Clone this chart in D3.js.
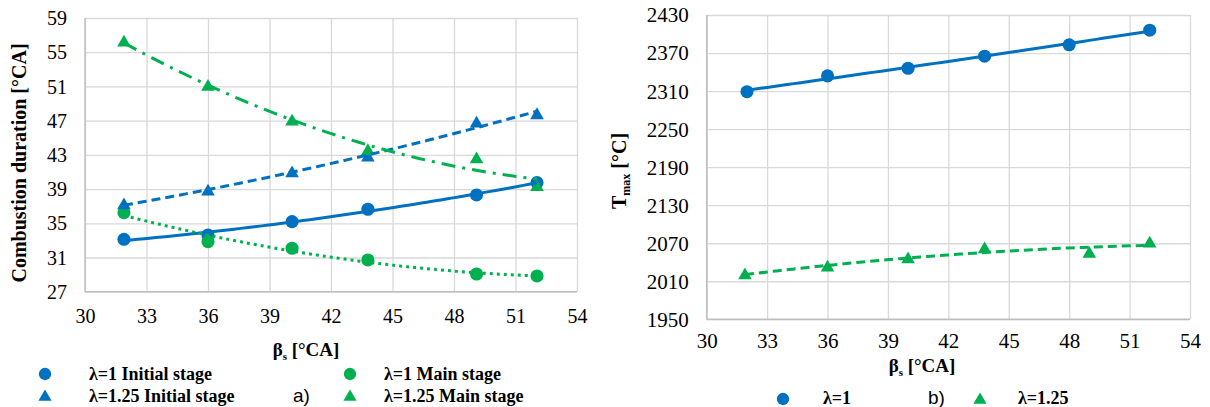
<!DOCTYPE html>
<html><head><meta charset="utf-8">
<script src="https://cdn.jsdelivr.net/npm/d3@7"></script>
<style>body{margin:0;background:#fff}svg{display:block}</style>
</head><body><svg id="c" width="1210" height="407"></svg>
<script>
// ---------- data ----------
const xTicks = [30, 33, 36, 39, 42, 45, 48, 51, 54];
const durTicks = [27, 31, 35, 39, 43, 47, 51, 55, 59];
const tmaxTicks = [1950, 2010, 2070, 2130, 2190, 2250, 2310, 2370, 2430];

const betaA = [31.9, 36, 40.1, 43.8, 49.1, 52.05];
const initialL1 = [33.13, 33.63, 35.19, 36.64, 38.31, 39.75];
const mainL1 = [36.24, 32.85, 32.08, 30.71, 29.07, 28.84];
const initialL125 = [37.22, 38.81, 40.96, 42.79, 46.77, 47.75];
const mainL125 = [56.24, 51.06, 47.0, 43.57, 42.6, 39.36];

const betaB1 = [32, 36, 40, 43.8, 48, 52];
const tmaxL1 = [2309, 2334, 2346, 2365, 2383, 2406];
const betaB125 = [31.9, 36, 40, 43.8, 49, 52];
const tmaxL125 = [2021, 2033, 2046, 2062, 2055, 2071];

// ---------- style ----------
const BLUE = '#0070C0', GREEN = '#00B050';
const SERIF = "'Liberation Serif'";
const SANS = "'Liberation Sans'";
const svg = d3.select('#c');

// least-squares quadratic trendline (like an Excel polynomial trendline)
function fitQuad(xs, ys) {
  const m = d3.mean(xs);
  const A = [[0,0,0],[0,0,0],[0,0,0]], b = [0,0,0];
  xs.forEach((x0, i) => {
    const x = x0 - m, p = [1, x, x * x];
    for (let r = 0; r < 3; r++) { b[r] += p[r] * ys[i]; for (let c = 0; c < 3; c++) A[r][c] += p[r] * p[c]; }
  });
  for (let i = 0; i < 3; i++) {
    for (let k = i + 1; k < 3; k++) {
      const f = A[k][i] / A[i][i];
      for (let j = i; j < 3; j++) A[k][j] -= f * A[i][j];
      b[k] -= f * b[i];
    }
  }
  const c = [0,0,0];
  for (let i = 2; i >= 0; i--) {
    let s = b[i];
    for (let j = i + 1; j < 3; j++) s -= A[i][j] * c[j];
    c[i] = s / A[i][i];
  }
  return x => { const t = x - m; return c[0] + c[1] * t + c[2] * t * t; };
}

function panel(cfg) {
  const x = d3.scaleLinear().domain([30, 54]).range([cfg.x0, cfg.x1]);
  const y = d3.scaleLinear().domain(cfg.yDomain).range([cfg.y1, cfg.y0]);
  const g = svg.append('g');

  // grid + tick labels via d3 axes
  const ya = g.append('g').attr('transform', `translate(${cfg.x0},0)`)
    .call(d3.axisLeft(y).tickValues(cfg.yTicks).tickSize(-(cfg.x1 - cfg.x0)).tickPadding(18).tickFormat(d3.format('d')));
  const xa = g.append('g').attr('transform', `translate(0,${cfg.y1})`)
    .call(d3.axisBottom(x).tickValues(xTicks).tickSize(-(cfg.y1 - cfg.y0)).tickFormat(d3.format('d')));
  [ya, xa].forEach(a => {
    a.attr('font-family', null).attr('font-size', null);
    a.select('.domain').remove();
    a.selectAll('line').attr('stroke', '#d9d9d9').attr('stroke-width', 1.3);
    a.selectAll('text').attr('fill', '#000').style('font-family', SERIF).style('font-size', cfg.tickSize + 'px');
  });
  ya.selectAll('text').attr('dy', '0.33em');
  xa.selectAll('text').attr('y', cfg.xTickOffset).attr('dy', null);
  // axis lines
  g.append('line').attr('x1', cfg.x0).attr('x2', cfg.x0).attr('y1', cfg.y0).attr('y2', cfg.y1).attr('stroke', '#bfbfbf').attr('stroke-width', 1.5);
  g.append('line').attr('x1', cfg.x0).attr('x2', cfg.x1).attr('y1', cfg.y1).attr('y2', cfg.y1).attr('stroke', '#bfbfbf').attr('stroke-width', 1.5);

  // series markers
  const line = d3.line().x(d => x(d[0])).y(d => y(d[1]));
  cfg.series.forEach(s => {
    const pts = s.xs.map((v, i) => [v, s.ys[i]]);
    const sym = d3.symbol().type(s.shape === 'circle' ? d3.symbolCircle : d3.symbolTriangle)
      .size(s.shape === 'circle' ? 135 : 80);
    g.append('g').selectAll('path').data(pts).join('path')
      .attr('d', sym).attr('fill', s.color)
      .attr('transform', d => `translate(${x(d[0])},${y(d[1]) + (s.shape === 'circle' ? 0 : 1)})`);
  });
  // trendlines
  cfg.series.forEach(s => {
    const f = fitQuad(s.xs, s.ys);
    const lo = d3.min(s.xs), hi = d3.max(s.xs);
    const trend = d3.range(0, 61).map(i => { const v = lo + (hi - lo) * i / 60; return [v, f(v)]; });
    g.append('path').datum(trend).attr('d', line).attr('fill', 'none')
      .attr('stroke', s.color).attr('stroke-width', 3)
      .attr('stroke-dasharray', s.dash).attr('stroke-linecap', 'butt');
  });

  // axis titles
  const xt = g.append('text').attr('x', cfg.xTitle[0]).attr('y', cfg.xTitle[1]).attr('text-anchor', 'middle')
    .style('font-family', SERIF).style('font-weight', 'bold').style('font-size', '19px');
  xt.append('tspan').text('β');
  xt.append('tspan').text('s').attr('dy', 4).style('font-size', '11px');
  xt.append('tspan').text(' [°CA]').attr('dy', -4);

  const yt = g.append('text').attr('transform', `translate(${cfg.yTitle[0]},${cfg.yTitle[1]}) rotate(-90)`)
    .attr('text-anchor', 'middle').style('font-family', SERIF).style('font-weight', 'bold').style('font-size', '20px');
  cfg.yTitleParts.forEach(p => {
    const t = yt.append('tspan').text(p.t);
    if (p.sub) t.attr('dy', 4).style('font-size', '12px');
    if (p.back) t.attr('dy', -4);
  });

  // legend
  cfg.legend.forEach(l => {
    const sym = d3.symbol().type(l.shape === 'circle' ? d3.symbolCircle : d3.symbolTriangle).size(l.shape === 'circle' ? 120 : 75);
    g.append('path').attr('d', sym).attr('fill', l.color).attr('transform', `translate(${l.mx},${l.my})`);
    g.append('text').attr('x', l.tx).attr('y', l.ty).text(l.label)
      .style('font-family', SERIF).style('font-weight', 'bold').style('font-size', '18px');
  });
  g.append('text').attr('x', cfg.tag[0]).attr('y', cfg.tag[1]).text(cfg.tag[2])
    .style('font-family', SANS).style('font-size', '19px');
}

panel({
  x0: 85, x1: 577, y0: 18, y1: 291.7,
  yDomain: [27, 59], yTicks: durTicks, tickSize: 20, xTickOffset: 31,
  xTitle: [306, 356], yTitle: [26, 163],
  yTitleParts: [{t: 'Combustion duration [°CA]'}],
  series: [
    {xs: betaA, ys: initialL1, color: BLUE, shape: 'circle', dash: null},
    {xs: betaA, ys: mainL1, color: GREEN, shape: 'circle', dash: '3,4'},
    {xs: betaA, ys: initialL125, color: BLUE, shape: 'triangle', dash: '9,5'},
    {xs: betaA, ys: mainL125, color: GREEN, shape: 'triangle', dash: '14,7,3,7'}
  ],
  legend: [
    {shape: 'circle', color: BLUE, mx: 45, my: 374, tx: 89, ty: 380, label: 'λ=1 Initial stage'},
    {shape: 'triangle', color: BLUE, mx: 45, my: 397, tx: 89, ty: 402, label: 'λ=1.25 Initial stage'},
    {shape: 'circle', color: GREEN, mx: 350, my: 374, tx: 384, ty: 380, label: 'λ=1 Main stage'},
    {shape: 'triangle', color: GREEN, mx: 350, my: 397, tx: 384, ty: 402, label: 'λ=1.25 Main stage'}
  ],
  tag: [293, 402, 'a)']
});

panel({
  x0: 706.7, x1: 1190, y0: 15, y1: 319.3,
  yDomain: [1950, 2430], yTicks: tmaxTicks, tickSize: 21, xTickOffset: 29,
  xTitle: [922, 372], yTitle: [626, 171],
  yTitleParts: [{t: 'T'}, {t: 'max', sub: true}, {t: '  [°C]', back: true}],
  series: [
    {xs: betaB1, ys: tmaxL1, color: BLUE, shape: 'circle', dash: null},
    {xs: betaB125, ys: tmaxL125, color: GREEN, shape: 'triangle', dash: '9,5'}
  ],
  legend: [
    {shape: 'circle', color: BLUE, mx: 783, my: 399, tx: 823, ty: 404, label: 'λ=1'},
    {shape: 'triangle', color: GREEN, mx: 980, my: 400, tx: 1018, ty: 404, label: 'λ=1.25'}
  ],
  tag: [928, 404, 'b)']
});
</script></body></html>
